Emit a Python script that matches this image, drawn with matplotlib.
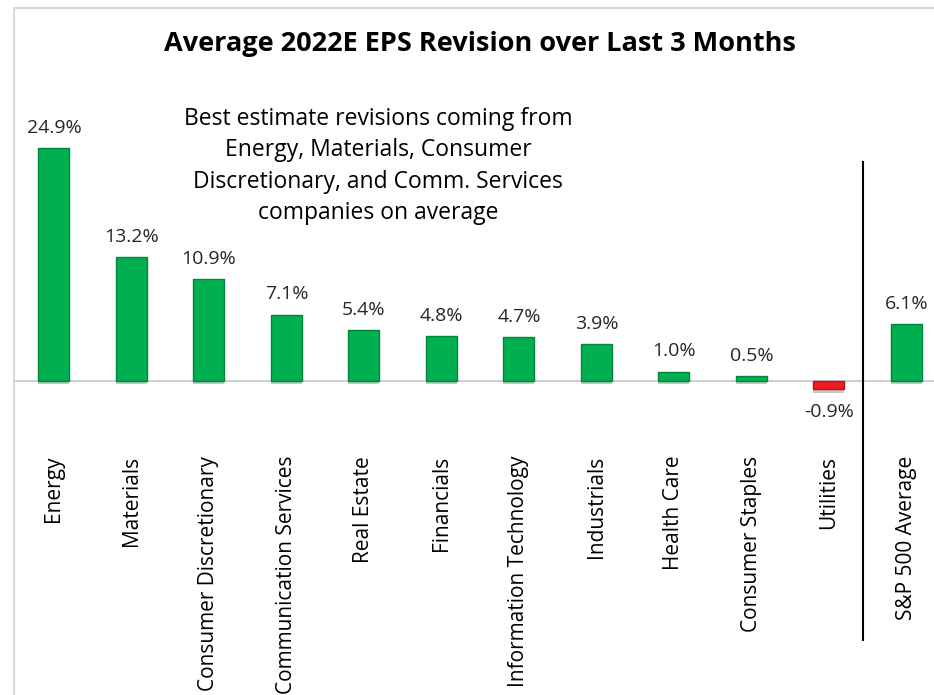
import matplotlib.pyplot as plt
import matplotlib.patheffects as pe
from matplotlib.patches import Rectangle

categories = ['Energy', 'Materials', 'Consumer Discretionary', 'Communication Services',
              'Real Estate', 'Financials', 'Information Technology', 'Industrials',
              'Health Care', 'Consumer Staples', 'Utilities', 'S&P 500 Average']
revisions = [24.9, 13.2, 10.9, 7.1, 5.4, 4.8, 4.7, 3.9, 1.0, 0.5, -0.9, 6.1]

title = 'Average 2022E EPS Revision over Last 3 Months'
note = ('Best estimate revisions coming from\nEnergy, Materials, Consumer\n'
        'Discretionary, and Comm. Services\ncompanies on average')

W, H = 934, 695
plt.rcParams['font.family'] = ['Open Sans', 'DejaVu Sans']

fig = plt.figure(figsize=(W / 100, H / 100), dpi=100)
# axes placed in pixel terms: category width 77.5 px, baseline at y=381 px
ax = fig.add_axes([15.25 / W, 0, (12 * 77.5) / W, 687 / H])
ax.set_xlim(-0.5, 11.5)
ax.set_ylim(-33.55, 39.85)
ax.axis('off')

ax.axhline(0, color='#d0d0d0', lw=1.5, zorder=1)

colors = ['#00b050' if v >= 0 else '#ee1c24' for v in revisions]
edges = ['#00853c' if v >= 0 else '#b3141a' for v in revisions]
xs = list(range(len(categories)))
bars = ax.bar(xs, revisions, width=0.4, color=colors, edgecolor=edges, lw=1.0, zorder=3)
for b in bars:
    b.set_path_effects([pe.SimplePatchShadow(offset=(0, -2.5), alpha=0.25), pe.Normal()])

for x, v in zip(xs, revisions):
    if v >= 0:
        ax.annotate(f'{v:.1f}%', (x, v), xytext=(0, 11), textcoords='offset points',
                    ha='center', va='baseline', fontsize=14, color='#262626')
    else:
        ax.annotate(f'{v:.1f}%', (x, v), xytext=(0, -10), textcoords='offset points',
                    ha='center', va='top', fontsize=14, color='#262626')

for x, name in zip(xs, categories):
    ax.text(x, -8.0, name, rotation=90, ha='center', va='top', fontsize=15, color='#000000')

# separator before the S&P 500 average
ax.plot([10.44, 10.44], [-27.7, 23.4], color='black', lw=1.5, zorder=2)

fig.text(480 / W, 1 - 44 / H, title, ha='center', va='center', fontsize=19.5,
         fontweight='bold', color='#000000')
fig.text(378 / W, 1 - 166 / H, note, ha='center', va='center', fontsize=16.5,
         linespacing=1.4, color='#000000')

fig.add_artist(Rectangle((14 / W, -0.1), 1.2, 1 - 8 / H + 0.1, transform=fig.transFigure,
                         fill=False, edgecolor='#d9d9d9', lw=1.5))

fig.savefig('out.png', dpi=100)
